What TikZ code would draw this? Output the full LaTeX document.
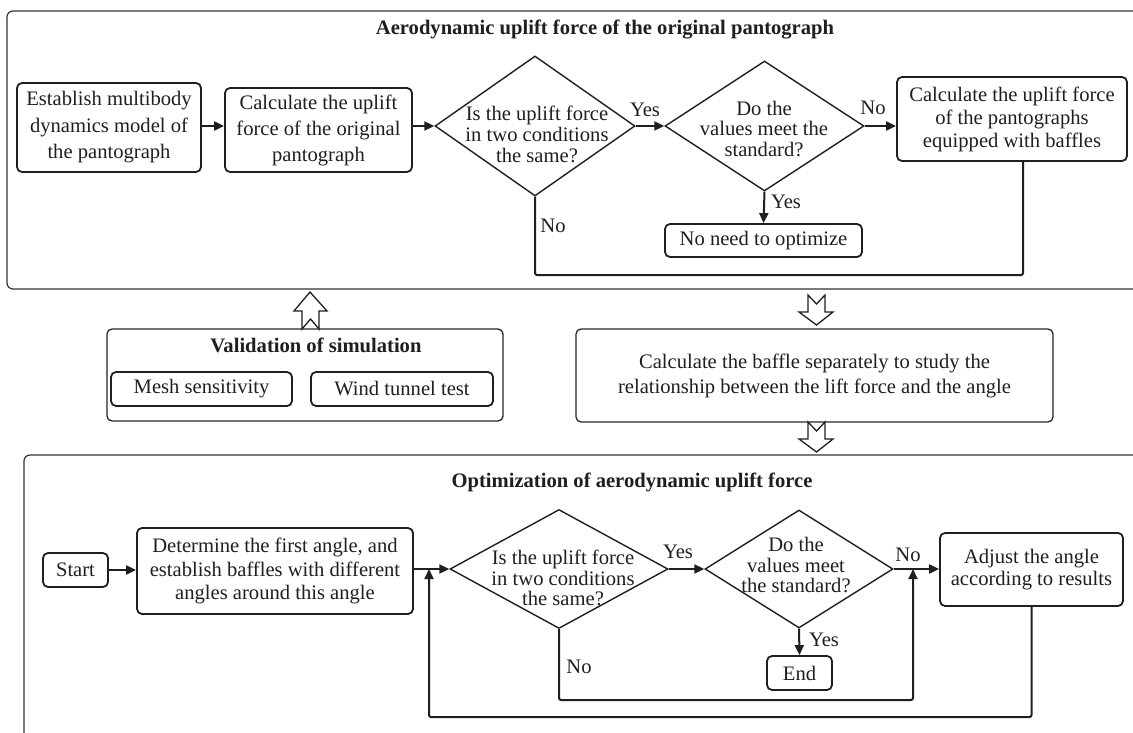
\documentclass[tikz,border=0pt]{standalone}
\usepackage{fontspec}
\setmainfont{Liberation Serif}
\usetikzlibrary{arrows.meta,shapes.geometric}
\begin{document}
\begin{tikzpicture}[x=1pt,y=-1pt,
  every node/.style={text=black!88, inner sep=0pt, align=center},
  fs/.style={font=\fontsize{20.6}{#1}\selectfont},
  ttl/.style={font=\fontsize{20.6}{24}\selectfont\bfseries},
  box/.style={draw=black!88, line width=1.8pt, rounded corners=5pt},
  frame/.style={draw=black!80, line width=1.2pt, rounded corners=6pt},
  panel/.style={draw=black!85, line width=1.3pt, rounded corners=5pt},
  dia/.style={diamond, draw=black!88, line width=1.4pt},
  conn/.style={draw=black!88, line width=2pt, rounded corners=2pt},
  arr/.style={conn, -{Triangle[length=10pt,width=9pt]}},
  block/.style={draw=black!88, line width=1.3pt, fill=white, line join=miter}
]
\fill[white] (0,0) rectangle (1133,733);
\useasboundingbox (0,0) rectangle (1133,733);

% ---------- top frame ----------
\node[frame, minimum width=1143pt, minimum height=278pt] (topframe) at (578.5,150) {};
\node[ttl] (t1) at (605,30) {Aerodynamic uplift force of the original pantograph};

\node[box, fs=26.5, minimum width=184pt, minimum height=89pt] (b1) at (109,127.5)
  {Establish multibody\\dynamics model of\\the pantograph};
\node[box, fs=26, minimum width=187pt, minimum height=84pt] (b2) at (318.5,130)
  {Calculate the uplift\\force of the original\\pantograph};
\node[dia, minimum width=200pt, minimum height=140pt] (d1) at (535,126) {};
\node[fs=21] (d1t) at (537,134) {Is the uplift force\\in two conditions\\the same?};
\node[dia, minimum width=199pt, minimum height=130pt] (d2) at (764.5,126) {};
\node[fs=20.5] (d2t) at (764,128.5) {Do the\\values meet the\\standard?};
\node[box, fs=23, minimum width=230pt, minimum height=84pt] (b3) at (1012,119)
  {Calculate the uplift force\\of the pantographs\\equipped with baffles};
\node[box, fs=24, minimum width=197pt, minimum height=33pt] (nn) at (763.5,240.5)
  {No need to optimize};

\draw[arr] (b1.east |- d1.west) -- (b2.west |- d1.west);
\draw[arr] (b2.east |- d1.west) -- (d1.west);
\draw[arr] (d1.east) -- (d2.west);
\node[fs=24] (yes1) at (645,110) {Yes};
\draw[arr] (d2.east) -- (b3.west |- d2.east);
\node[fs=24] (no1) at (873,108) {No};
\draw[arr] (d2.south) -- (nn.north);
\node[fs=24] (yes2) at (786,202) {Yes};
\coordinate (l1) at (1023,275);
\draw[conn] (b3.south -| l1) -- (l1) -| (d1.south);
\node[fs=24] (no2) at (553,226) {No};

% ---------- middle ----------
\node[panel, minimum width=396pt, minimum height=92pt] (val) at (305,375) {};
\node[ttl] (valt) at (316,345) {Validation of simulation};
\node[box, fs=24, minimum width=181pt, minimum height=34pt] (mesh) at (201.5,389) {Mesh sensitivity};
\node[box, fs=24, minimum width=182pt, minimum height=34pt] (wind) at (402,389) {Wind tunnel test};

\node[panel, fs=25, minimum width=477pt, minimum height=93pt] (baf) at (814.5,375.5)
  {Calculate the baffle separately to study the\\relationship between the lift force and the angle};

% hollow notched block arrows
\draw[block] (302,329) -- (302,311) -- (294,311) -- (310,292) -- (327,311) -- (319,311) -- (319,329) -- (310.5,319) -- cycle;
\draw[block] (808,295) -- (816.5,304) -- (825,295) -- (825,312) -- (833,312) -- (816.5,325) -- (799,312) -- (808,312) -- cycle;
\draw[block] (808,422) -- (816.5,431) -- (825,422) -- (825,439) -- (833,439) -- (816.5,452) -- (799,439) -- (808,439) -- cycle;

% ---------- bottom frame ----------
\node[frame, minimum width=1136pt, minimum height=300pt] (botframe) at (592,605) {};
\node[ttl] (t2) at (632,482) {Optimization of aerodynamic uplift force};

\node[box, fs=24, minimum width=65pt, minimum height=34pt] (st) at (75.5,570) {Start};
\node[box, fs=23.3, minimum width=276pt, minimum height=86pt] (det) at (275,571)
  {Determine the first angle, and\\establish baffles with different\\angles around this angle};
\node[dia, minimum width=218pt, minimum height=119pt] (d3) at (559,569) {};
\node[fs=20.8] (d3t) at (563,578) {Is the uplift force\\in two conditions\\the same?};
\node[dia, minimum width=188pt, minimum height=118pt] (d4) at (799,569) {};
\node[fs=20.5] (d4t) at (796,565) {Do the\\values meet\\the standard?};
\node[box, fs=22.5, minimum width=183pt, minimum height=73pt] (adj) at (1031.5,569.5)
  {Adjust the angle\\according to results};
\node[box, fs=24, minimum width=65pt, minimum height=34pt] (en) at (799.5,673) {End};

\draw[arr] (st.east) -- (det.west |- st.east);
\draw[arr] (det.east |- d3.west) -- (d3.west);
\draw[arr] (d3.east) -- (d4.west);
\node[fs=24] (yes3) at (678,552) {Yes};
\draw[arr] (d4.east) -- (adj.west |- d4.east);
\node[fs=24] (no3) at (908,555) {No};
\draw[arr] (d4.south) -- (en.north);
\node[fs=24] (yes4) at (824,640) {Yes};

\coordinate (j1) at (429,569);
\coordinate (j2) at (913,569);
\coordinate (l2) at (913,700);
\coordinate (l3) at (429,717);
\draw[arr] (d3.south) |- (l2) -- (j2);
\node[fs=24] (no4) at (579,667) {No};
\draw[arr] (adj.south) |- (l3) -- (j1);
\end{tikzpicture}
\end{document}
